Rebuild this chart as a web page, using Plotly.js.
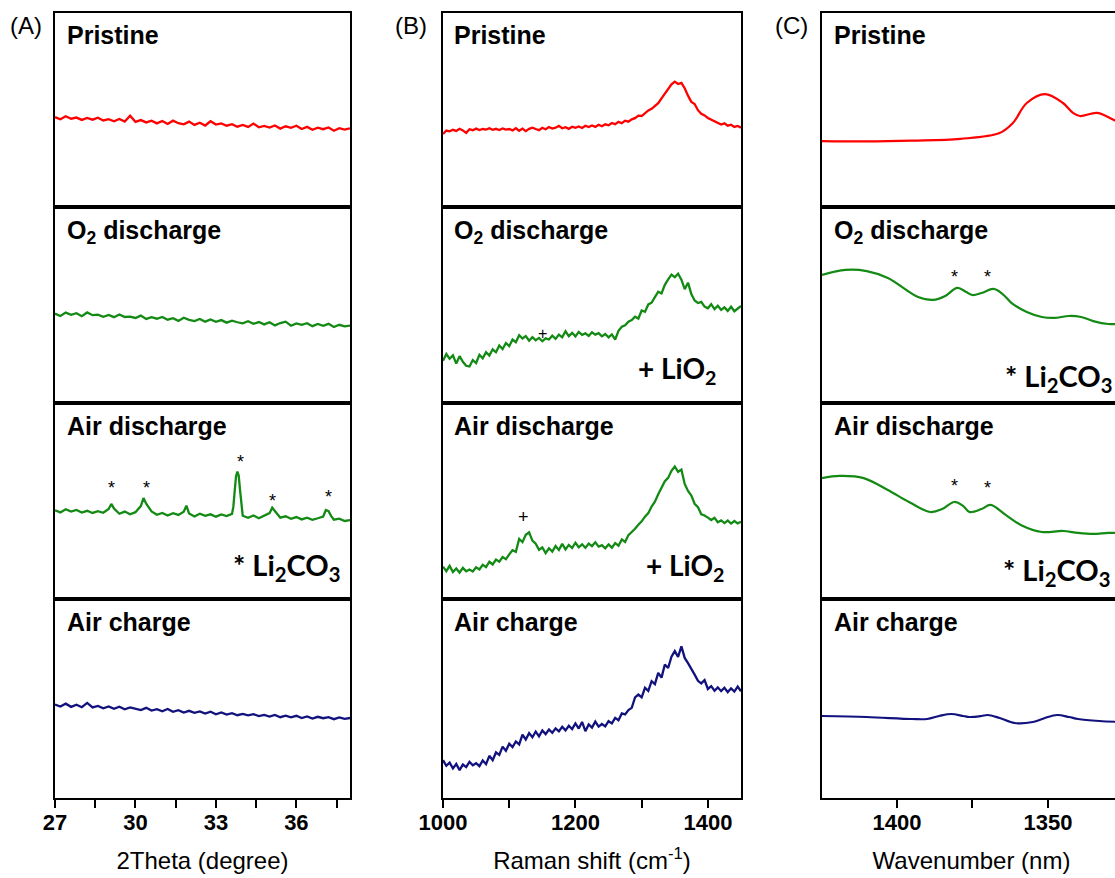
<!DOCTYPE html>
<html><head><meta charset="utf-8">
<script src="https://cdn.plot.ly/plotly-3.0.1.min.js"></script>
<style>html,body{margin:0;padding:0;overflow:hidden;background:#fff;}#chart{width:1125px;height:878px;}</style>
</head><body><div id="chart"></div>
<script>
// ---------- DATA ----------
const rowLabels = ['Pristine', 'O<sub>2</sub> discharge', 'Air discharge', 'Air charge'];
const panelLetters = ['(A)', '(B)', '(C)'];
const axisTitles = ['2Theta (degree)', 'Raman shift (cm<sup>-1</sup>)', 'Wavenumber (nm)'];

// (A) XRD
const xrdX = [27,27.2,27.4,27.6,27.8,28,28.2,28.4,28.6,28.8,29,29.2,29.4,29.6,29.8,30,30.2,30.4,30.6,30.8,31,31.2,31.4,31.6,31.8,32,32.2,32.4,32.6,32.8,33,33.2,33.4,33.6,33.8,34,34.2,34.4,34.6,34.8,35,35.2,35.4,35.6,35.8,36,36.2,36.4,36.6,36.8,37,37.2,37.4,37.6,37.8,38];
const xrdPristine = [46.3,45.2,46.8,45.5,46.1,44.9,45.9,45.0,46.0,44.6,
  45.3,44.2,45.4,44.0,47.0,43.9,44.8,43.6,44.5,43.1,
  44.3,42.8,44.5,43.2,42.6,44.0,42.3,43.4,42.0,44.2,
  42.5,43.1,41.9,42.7,41.4,42.3,41.3,43.0,41.1,41.8,
  40.9,42.0,40.4,41.6,40.8,41.9,40.2,41.3,39.8,40.9,
  40.1,41.0,39.3,40.6,39.9,40.5];
const xrdO2Discharge = [45.6,44.4,46.1,45.0,45.8,44.3,46.2,44.8,45.1,44.0,
  44.9,43.8,45.2,43.9,44.1,43.4,44.6,42.9,43.8,43.0,
  43.9,42.5,43.3,41.9,43.5,42.4,41.8,42.9,41.5,42.6,
  41.4,42.3,41.0,42.0,41.2,40.6,41.7,40.4,41.3,40.1,
  41.2,39.6,40.8,41.5,39.4,40.6,39.9,40.7,39.2,40.3,
  39.4,40.4,38.8,39.9,39.1,39.5];
const xrdAirCharge = [47.0,46.0,47.4,45.8,46.9,45.6,47.8,45.5,46.3,45.1,
  46.0,44.8,45.9,44.6,45.5,44.9,44.2,45.3,43.9,44.6,
  43.6,44.7,43.3,44.1,42.9,43.8,42.8,43.5,42.4,43.4,
  42.1,43.0,41.9,42.6,41.6,42.3,41.5,42.1,41.2,41.8,
  40.9,41.7,40.6,41.4,40.5,41.3,40.2,41.0,39.9,40.8,
  40.1,40.6,39.6,40.5,39.8,40.2];
const xrdAirDischargeX = [27,27.2,27.4,27.6,27.8,28,28.2,28.4,28.6,28.8,29,29.1,29.2,29.4,29.6,29.8,30,30.2,30.3,30.4,30.6,30.8,31,31.2,31.4,31.6,31.8,31.9,32,32.2,32.4,32.6,32.8,33,33.2,33.4,33.6,33.65,33.7,33.75,33.8,33.85,33.9,33.95,34,34.2,34.4,34.6,34.8,35,35.1,35.2,35.4,35.6,35.8,36,36.2,36.4,36.6,36.8,37,37.1,37.2,37.3,37.4,37.6,37.8,38];
const xrdAirDischarge = [45.3,44.2,45.8,44.6,45.4,44.1,45.0,43.9,44.8,44.0,45.9,48.5,46.2,43.5,44.6,43.2,44.3,47.4,51.5,48.6,44.7,43.0,43.9,42.6,43.8,42.9,44.5,47.6,43.6,42.1,43.5,42.4,43.2,42.0,43.1,42.3,43.4,47.0,55.0,62.5,65.0,63.0,55.5,46.5,42.5,41.4,42.6,41.2,42.3,43.8,46.6,44.9,41.5,42.2,40.9,41.8,40.6,41.5,40.4,41.2,42.1,45.4,44.8,42.3,40.5,41.0,39.8,40.3];
const li2co3StarX = [29.1, 30.4, 33.9, 35.1, 37.2];
const li2co3StarY = [56.7, 56.7, 70.0, 50.0, 52.1];

// (B) Raman
const ramanX = [1000,1005,1010,1015,1020,1025,1030,1035,1040,1045,1050,1055,1060,1065,1070,1075,1080,1085,1090,1095,
  1100,1105,1110,1115,1120,1125,1130,1135,1140,1145,1150,1155,1160,1165,1170,1175,1180,1185,1190,1195,
  1200,1205,1210,1215,1220,1225,1230,1235,1240,1245,1250,1255,1260,1265,1270,1275,1280,1285,1290,1295,
  1300,1305,1310,1315,1320,1325,1330,1335,1340,1345,1350,1355,1360,1365,1370,1375,1380,1385,1390,1395,
  1400,1405,1410,1415,1420,1425,1430,1435,1440,1445,1450];
const ramanPristine = [37.6,39.4,39.0,39.8,39.2,40.3,39.5,38.2,40.1,39.6,
  40.4,39.7,40.2,39.9,40.6,39.8,40.3,39.7,40.5,39.9,
  40.2,39.5,40.6,39.3,40.4,39.1,40.3,40.9,40.2,39.6,
  40.8,40.1,41.2,40.4,40.9,41.8,40.6,41.1,40.3,41.4,
  40.8,41.5,40.7,41.9,41.2,42.0,41.3,42.4,41.6,42.6,
  42.1,43.3,42.7,43.9,43.2,44.5,44.0,45.2,45.8,47.1,
  46.9,48.2,49.8,50.6,51.9,53.5,56.0,58.3,60.9,63.2,
  64.6,63.4,64.0,61.2,57.4,54.2,53.1,49.9,48.0,47.2,
  45.9,45.0,44.1,43.6,42.5,43.1,41.9,42.4,41.3,41.8,
  40.9];
const ramanO2Discharge = [21.5,25.0,22.6,24.3,20.1,23.9,21.0,19.0,18.6,21.9,
  20.4,24.6,22.8,25.9,24.2,27.4,25.9,29.3,27.5,30.6,
  29.0,32.4,31.0,34.6,32.9,34.1,31.8,33.6,32.0,33.2,
  31.5,33.0,32.4,34.3,32.7,34.9,33.5,36.6,34.1,35.8,
  34.0,36.3,34.8,35.5,34.2,36.1,34.9,35.6,34.0,35.2,
  33.5,35.0,32.4,36.8,38.9,39.6,41.5,42.3,44.0,43.1,
  47.2,46.5,50.3,51.2,54.0,56.8,55.9,60.3,63.1,65.5,
  64.2,66.0,62.9,58.1,61.4,55.6,52.3,51.0,51.6,49.2,
  48.3,50.4,47.9,49.6,47.5,48.8,47.0,49.1,46.8,48.2,
  49.5];
const ramanAirDischarge = [16.5,14.2,16.9,13.8,15.6,13.5,15.9,14.1,15.0,14.0,
  16.2,15.1,17.4,16.3,19.0,17.6,20.1,19.0,21.4,20.3,
  22.8,24.9,24.1,30.6,29.0,32.8,34.0,29.8,28.2,25.1,
  26.3,23.4,25.9,24.2,27.0,25.0,28.1,25.3,27.6,26.0,
  28.7,26.4,27.9,26.1,28.3,27.0,28.9,26.7,27.5,25.9,
  27.8,26.2,28.5,27.2,30.4,29.1,32.6,34.0,35.8,37.9,
  39.6,42.0,43.8,47.2,49.6,53.4,56.9,60.1,61.8,65.4,
  67.6,64.9,66.0,58.7,55.1,52.8,48.6,46.9,43.2,42.6,
  41.5,40.3,41.4,39.2,40.1,38.7,40.0,38.5,39.8,38.6,
  39.4];
const ramanAirCharge = [19.0,16.2,17.8,14.9,17.1,14.0,16.8,15.5,18.2,16.4,
  17.5,16.0,18.9,17.0,21.2,19.0,22.9,21.6,25.8,23.7,
  27.3,25.6,28.4,26.9,31.8,29.4,32.6,30.5,33.4,31.0,
  33.9,32.1,34.4,32.8,35.0,33.5,35.8,34.0,36.3,34.6,
  37.5,34.9,38.2,33.6,37.0,35.4,38.4,35.9,37.2,36.0,
  38.6,37.5,40.3,39.1,42.5,42.0,44.2,45.3,50.6,52.0,
  50.6,55.4,53.8,58.7,57.2,62.9,60.5,67.1,65.3,71.0,
  73.8,70.9,76.2,70.4,67.8,64.5,62.0,58.9,57.6,59.3,
  54.8,56.2,53.9,55.6,53.7,55.4,53.2,55.1,53.5,56.0,
  53.6];
const lio2MarkX = [1150, 1121];
const lio2MarkY = [35.7, 41.8];

// (C) IR
const irPristineX = [1424.8,1410,1395,1379,1366,1361.6,1357,1351,1345,1341.7,1339.4,1333.8,1329.5,1325.8];
const irPristine = [34.0,33.8,34.2,35.1,38.1,43.3,53.6,58.2,53.6,48.5,46.9,48.5,45.9,42.8];
const irO2DischargeX = [1424.8,1417,1410,1403,1393,1388,1384,1380,1377,1375,1372,1368,1365,1362,1357,1352,1348,1343,1339,1335,1330,1325.8];
const irO2Discharge = [65.3,67.9,67.3,63.8,54.1,52.6,54.6,58.7,56.6,55.1,56.1,58.2,55.6,51.0,46.4,43.9,43.4,44.4,43.9,41.8,40.3,40.3];
const irAirDischargeX = [1424.8,1419,1411,1403,1396,1389,1385,1381,1378,1376,1372,1369,1364,1359,1352,1345,1340,1335,1330,1325.8];
const irAirDischarge = [61.7,62.8,61.7,55.6,49.5,44.4,45.9,49.5,47.4,44.4,45.9,48.0,42.9,37.8,34.2,34.7,33.7,33.2,33.7,33.7];
const irAirChargeX = [1424.8,1410,1395,1390,1386,1382,1378,1376,1372,1370,1366,1361,1355,1351,1347,1343,1340,1333,1325.8];
const irAirCharge = [41.2,40.7,39.7,39.7,41.2,42.2,41.2,40.7,41.2,41.7,40.2,37.7,38.2,40.2,41.7,40.7,39.7,38.7,38.2];
const irStarX = [1381, 1370];
const irStarYO2 = [64.5, 64.5];
const irStarYAir = [57.9, 56.4];

// ticks (labelled major ticks + unlabelled minor ticks)
const xrdTickVals = [27, 30, 33, 36];
const xrdTickText = ['27', '30', '33', '36'];
const xrdMinorVals = [28.5, 31.5, 34.5, 37.5];
const ramanTickVals = [1000, 1200, 1400];
const ramanTickText = ['1000', '1200', '1400'];
const ramanMinorVals = [1100, 1300];
const irTickVals = [1400, 1350];
const irTickText = ['1400', '1350'];
const irMinorVals = [1375];

// ---------- BUILD ----------
const W = 1125, H = 878;
const colPx = [[55, 350], [443, 741], [822, 1121]];
const rowPx = [[13, 207], [207, 403], [403, 599], [599, 798]];
const xRanges = [[27, 38], [1000, 1450], [1424.8, 1325.8]];
const rowColors = ['#ff0000', '#138a13', '#138a13', '#12127f'];
const tickVals = [xrdTickVals, ramanTickVals, irTickVals];
const tickText = [xrdTickText, ramanTickText, irTickText];
const minorVals = [xrdMinorVals, ramanMinorVals, irMinorVals];

const seriesX = [
  [xrdX, xrdX, xrdAirDischargeX, xrdX],
  [ramanX, ramanX, ramanX, ramanX],
  [irPristineX, irO2DischargeX, irAirDischargeX, irAirChargeX]
];
const seriesY = [
  [xrdPristine, xrdO2Discharge, xrdAirDischarge, xrdAirCharge],
  [ramanPristine, ramanO2Discharge, ramanAirDischarge, ramanAirCharge],
  [irPristine, irO2Discharge, irAirDischarge, irAirCharge]
];

const FONT = 'Liberation Sans, Arial, sans-serif';
const LABELFONT = 'Lato, Carlito, Liberation Sans, sans-serif';
const layout = {
  width: W, height: H,
  margin: {l: 0, r: 0, t: 0, b: 0},
  paper_bgcolor: '#fff', plot_bgcolor: 'rgba(0,0,0,0)',
  showlegend: false,
  annotations: [],
  font: {family: FONT, color: '#000'}
};
const traces = [];
function ax(k, letter) { return k === 1 ? letter : letter + k; }

for (let c = 0; c < 3; c++) {
  for (let r = 0; r < 4; r++) {
    const k = c * 4 + r + 1;
    const xa = ax(k, 'x'), ya = ax(k, 'y');
    const xKey = k === 1 ? 'xaxis' : 'xaxis' + k;
    const yKey = k === 1 ? 'yaxis' : 'yaxis' + k;
    const bottom = r === 3;
    layout[xKey] = {
      domain: [colPx[c][0] / W, colPx[c][1] / W],
      anchor: ya, range: xRanges[c],
      showline: true, mirror: true, linewidth: 2, linecolor: '#000',
      showgrid: false, zeroline: false,
      automargin: false
    };
    if (bottom) {
      Object.assign(layout[xKey], {
        ticks: 'outside', ticklen: 8, tickwidth: 2, tickcolor: '#000',
        tickmode: 'array', tickvals: tickVals[c], ticktext: tickText[c],
        showticklabels: true, ticklabelstandoff: -4,
        tickfont: {family: FONT, size: 22, weight: 'bold', color: '#000'},
        minor: {tickmode: 'array', tickvals: minorVals[c], ticks: 'outside', ticklen: 8, tickwidth: 2, tickcolor: '#000', showgrid: false},
        title: {text: axisTitles[c], font: {family: FONT, size: 24, color: '#000'}, standoff: 18}
      });
    } else {
      Object.assign(layout[xKey], {ticks: '', showticklabels: false});
    }
    layout[yKey] = {
      domain: [1 - rowPx[r][1] / H, 1 - rowPx[r][0] / H],
      anchor: xa, range: [0, 100],
      showline: true, mirror: true, linewidth: 2, linecolor: '#000',
      showgrid: false, zeroline: false, ticks: '', showticklabels: false,
      automargin: false
    };
    traces.push({
      x: seriesX[c][r], y: seriesY[c][r], xaxis: xa, yaxis: ya,
      type: 'scatter', mode: 'lines', hoverinfo: 'skip',
      line: {color: rowColors[r], width: c === 2 ? 2.2 : 2.3, shape: c === 2 ? 'spline' : 'linear', smoothing: 1}
    });
  }
}

// row labels and panel letters
const labelLeft = [65, 452, 832];
const labelMid = [35, 232, 426, 622];
const letterLeft = [8, 393, 773];
for (let c = 0; c < 3; c++) {
  layout.annotations.push({
    xref: 'paper', yref: 'paper', x: letterLeft[c] / W, y: 1 - 25 / H,
    xanchor: 'left', yanchor: 'middle', showarrow: false, text: panelLetters[c],
    font: {family: FONT, size: 24, color: '#000'}
  });
  for (let r = 0; r < 4; r++) {
    layout.annotations.push({
      xref: 'paper', yref: 'paper', x: labelLeft[c] / W, y: 1 - labelMid[r] / H,
      xanchor: 'left', yanchor: 'middle', showarrow: false, text: '<b>' + rowLabels[r] + '</b>',
      font: {family: FONT, size: 25, color: '#000'}
    });
  }
}
function addNote(k, x, y, text, size, family, bold, anchor) {
  layout.annotations.push({
    xref: ax(k, 'x'), yref: ax(k, 'y'), x: x, y: y, text: bold ? '<b>' + text + '</b>' : text,
    xanchor: anchor || 'center', yanchor: 'middle', showarrow: false,
    font: {family: family, size: size, color: '#000'}
  });
}
// A: Li2CO3 peaks
for (let i = 0; i < li2co3StarX.length; i++) addNote(3, li2co3StarX[i], li2co3StarY[i], '*', 18, FONT, false);
addNote(3, 33.57, 16.4, '* Li<sub>2</sub>CO<sub>3</sub>', 29, LABELFONT, true, 'left');
// B: LiO2
addNote(6, lio2MarkX[0], lio2MarkY[0], '+', 16, FONT, false);
addNote(7, lio2MarkX[1], lio2MarkY[1], '+', 18, FONT, false);
addNote(6, 1292, 16.8, '+ LiO<sub>2</sub>', 28, LABELFONT, true, 'left');
addNote(7, 1303, 16.3, '+ LiO<sub>2</sub>', 28, LABELFONT, true, 'left');
// C: Li2CO3
for (let i = 0; i < irStarX.length; i++) addNote(10, irStarX[i], irStarYO2[i], '*', 18, FONT, false);
for (let i = 0; i < irStarX.length; i++) addNote(11, irStarX[i], irStarYAir[i], '*', 18, FONT, false);
addNote(10, 1364.9, 12.8, '* Li<sub>2</sub>CO<sub>3</sub>', 29, LABELFONT, true, 'left');
addNote(11, 1365.6, 13.8, '* Li<sub>2</sub>CO<sub>3</sub>', 29, LABELFONT, true, 'left');

Plotly.newPlot('chart', traces, layout, {staticPlot: true, displayModeBar: false});
</script></body></html>
